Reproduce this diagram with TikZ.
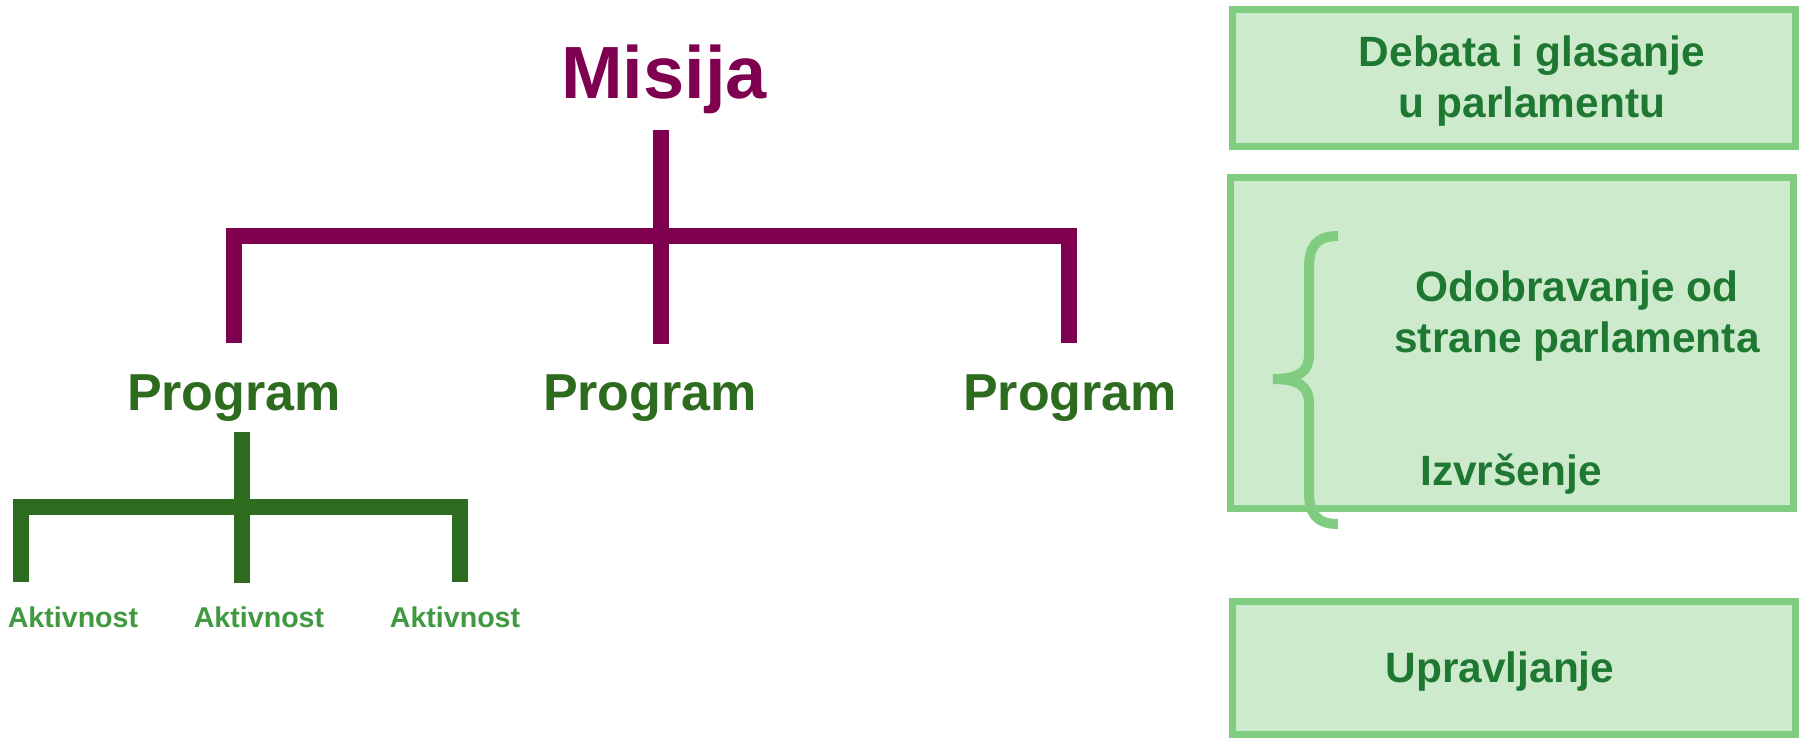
\documentclass[tikz,border=0pt]{standalone}
\usepackage{fontspec}
\setmainfont{Liberation Sans}
\definecolor{plum}{RGB}{128,0,80}
\definecolor{progreen}{RGB}{45,107,30}
\definecolor{actgreen}{RGB}{64,153,64}
\definecolor{boxtext}{RGB}{30,120,50}
\definecolor{boxfill}{RGB}{205,234,204}
\definecolor{boxline}{RGB}{128,204,128}
\begin{document}
\begin{tikzpicture}
      [x=0.5pt, y=-0.5pt,
      every node/.style={inner sep=0pt, outer sep=0pt, anchor=base},
      title/.style={font=\fontsize{37}{44}\selectfont\bfseries, text=plum},
      prog/.style={font=\fontsize{26}{31}\selectfont\bfseries, text=progreen},
      act/.style={font=\fontsize{14.3}{17}\selectfont\bfseries, text=actgreen},
      boxlabel/.style={font=\fontsize{21.2}{25.5}\selectfont\bfseries, text=boxtext, align=center},
      stage/.style={draw=boxline, fill=boxfill, line width=3.5pt, anchor=center},
      purp/.style={draw=plum, line width=8pt, line join=miter},
      grn/.style={draw=progreen, line width=8pt, line join=miter},
      ]
      \useasboundingbox (0,0) rectangle (1799,738);
      % stages on the right
      \node[stage, minimum width=281.5pt, minimum height=68.5pt] (debbox) at (1514,78) {};
      \node[stage, minimum width=281.5pt, minimum height=165.5pt] (odobox) at (1512,343) {};
      \node[stage, minimum width=281.5pt, minimum height=66.5pt] (uprbox) at (1514,668) {};
      \node[boxlabel] (debata) at (1532,118) {Debata i glasanje\\u parlamentu};
      \node[boxlabel] (odobr) at (1577,352) {Odobravanje od\\strane parlamenta};
      \node[boxlabel] (izvrs) at (1511,485) {Izvršenje};
      \node[boxlabel] (uprav) at (1500,682) {Upravljanje};
      \draw[boxline, line width=5pt] (1338,236) .. controls (1315,236) and (1309,248) .. (1309,268)
        -- (1309,355) .. controls (1309,372) and (1298,379) .. (1273,379)
        .. controls (1298,379) and (1309,386) .. (1309,403)
        -- (1309,492) .. controls (1309,512) and (1315,524) .. (1338,524);
      % mission and programs
      \node[title] (misija) at (664,98) {Misija};
      \node[prog] (prog1) at (234,410) {Program};
      \node[prog] (prog2) at (650,410) {Program};
      \node[prog] (prog3) at (1070,410) {Program};
      \coordinate (mtop) at (661,130);
      \coordinate (mbot) at (661,344);
      \coordinate (mbar) at (661,236);
      \coordinate (pl) at (234,343);
      \coordinate (pr) at (1068.5,343);
      \draw[purp] (mtop) -- (mbot);
      \draw[purp] (pl) |- (mbar) -| (pr);
      % activities
      \node[act] (akt1) at (73,627) {Aktivnost};
      \node[act] (akt2) at (259,627) {Aktivnost};
      \node[act] (akt3) at (455,627) {Aktivnost};
      \coordinate (atop) at (241.5,432);
      \coordinate (abot) at (241.5,583);
      \coordinate (abar) at (241.5,507);
      \coordinate (al) at (21,582);
      \coordinate (ar) at (460,582);
      \draw[grn] (atop) -- (abot);
      \draw[grn] (al) |- (abar) -| (ar);
\end{tikzpicture}
\end{document}
